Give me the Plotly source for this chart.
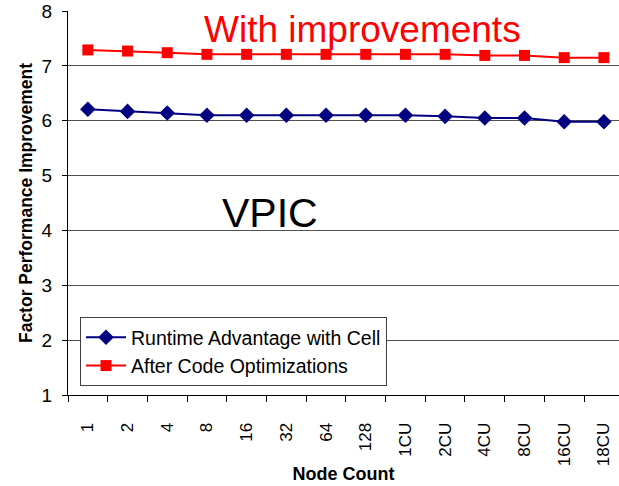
import plotly.graph_objects as go

categories = ["1", "2", "4", "8", "16", "32", "64", "128", "1CU", "2CU", "4CU", "8CU", "16CU", "18CU"]
runtime_adv = [6.21, 6.17, 6.14, 6.10, 6.10, 6.10, 6.10, 6.10, 6.10, 6.08, 6.05, 6.05, 5.98, 5.98]
after_opt = [7.29, 7.27, 7.24, 7.21, 7.21, 7.21, 7.21, 7.21, 7.21, 7.21, 7.19, 7.19, 7.15, 7.15]
y_ticks = [1, 2, 3, 4, 5, 6, 7, 8]

FONT = "Liberation Sans, Arial, sans-serif"

fig = go.Figure()
fig.add_trace(go.Scatter(
    x=categories, y=runtime_adv, name="Runtime Advantage with Cell",
    mode="lines+markers",
    line=dict(color="#000080", width=2),
    marker=dict(symbol="diamond", size=12, color="#000080"),
))
fig.add_trace(go.Scatter(
    x=categories, y=after_opt, name="After Code Optimizations",
    mode="lines+markers",
    line=dict(color="#FF0000", width=2),
    marker=dict(symbol="square", size=11, color="#FF0000"),
))

fig.update_layout(
    width=619, height=486,
    margin=dict(l=68, r=0, t=11, b=91, autoexpand=False),
    paper_bgcolor="white", plot_bgcolor="white",
    font=dict(family=FONT, color="black"),
    showlegend=True,
    legend=dict(
        x=0.0218, y=0.203, xanchor="left", yanchor="top",
        bgcolor="white", bordercolor="#404040", borderwidth=1,
        font=dict(size=19.5, family=FONT, color="black"),
        itemwidth=40,
        tracegroupgap=0,
    ),
    xaxis=dict(
        type="category",
        range=[-0.5, 13.38],
        showline=True, linecolor="black", linewidth=1,
        ticks="outside", ticklen=6, tickcolor="black", tickson="boundaries",
        tickangle=-90,
        tickfont=dict(size=17, family=FONT),
        ticklabelstandoff=20,
        showgrid=False, zeroline=False,
        title=dict(text="<b>Node Count</b>", font=dict(size=18, family=FONT), standoff=2),
        automargin=False,
    ),
    yaxis=dict(
        range=[1, 8],
        tickvals=y_ticks,
        showline=True, linecolor="black", linewidth=1,
        ticks="outside", ticklen=5, tickcolor="black",
        tickfont=dict(size=19, family=FONT),
        ticklabelstandoff=6,
        showgrid=True, gridcolor="#505050", gridwidth=1,
        zeroline=False,
        title=dict(text="<b>Factor Performance Improvement</b>", font=dict(size=17.5, family=FONT), standoff=4),
        automargin=False,
    ),
    annotations=[
        dict(text="With improvements", x=0.5336, xref="paper", y=7.67, yref="y",
             xanchor="center", yanchor="middle", showarrow=False,
             font=dict(size=37, color="#FF0000", family=FONT)),
        dict(text="VPIC", x=0.3666, xref="paper", y=4.318, yref="y",
             xanchor="center", yanchor="middle", showarrow=False,
             font=dict(size=41, color="black", family=FONT)),
    ],
)

fig.write_html("out.html")
